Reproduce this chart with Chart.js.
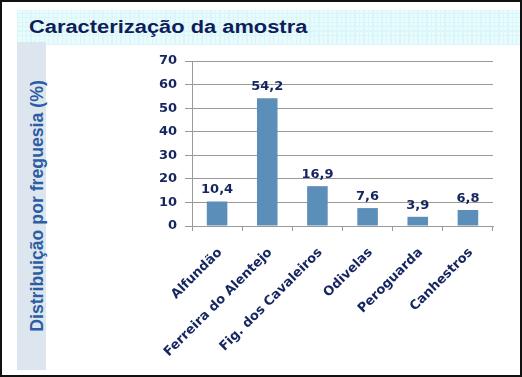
<!DOCTYPE html>
<html>
<head>
<meta charset="utf-8">
<script src="https://cdn.jsdelivr.net/npm/chart.js@4/dist/chart.umd.min.js"></script>
<style>
  html, body { margin:0; padding:0; background:#fff; }
  #frame { position:absolute; left:0; top:0; width:522px; height:377px; box-sizing:border-box; border:2px solid #111; overflow:hidden; background:#fff; }
  #titleband { position:absolute; left:17px; top:10px; width:503px; height:35px;
    background-color:#e9fcfd;
    background-image: repeating-linear-gradient(0deg, #daf6f8 0px, #daf6f8 1px, transparent 1px, transparent 4.5px),
                      repeating-linear-gradient(90deg, #daf6f8 0px, #daf6f8 1px, transparent 1px, transparent 4.5px); }
  #title { position:absolute; left:29px; top:12px; font-family:"Liberation Sans", Arial, sans-serif; font-weight:bold; font-size:18.7px; color:#0f1d5a; white-space:nowrap; transform-origin:0 0; transform:scaleX(1.17); line-height:30px; }
  #leftband { position:absolute; left:17px; top:42px; width:29px; height:328px; background:#dde6ee; }
  #ytitle { position:absolute; left:37px; top:206px; font-family:"Liberation Sans", Arial, sans-serif; font-weight:bold; font-size:17.7px; color:#2a5da3; white-space:nowrap; transform: translate(-50%, -50%) rotate(-90deg); }
  #c { position:absolute; left:0; top:0; }
</style>
</head>
<body>
<div id="frame"></div>
<div id="titleband"></div>
<div id="title">Caracterização da amostra</div>
<div id="leftband"></div>
<div id="ytitle">Distribuição por freguesia (%)</div>
<canvas id="c" width="522" height="377"></canvas>
<script>
const categories = ["Alfundão", "Ferreira do Alentejo", "Fig. dos Cavaleiros", "Odivelas", "Peroguarda", "Canhestros"];
const values = [10.4, 54.2, 16.9, 7.6, 3.9, 6.8];
const yTicks = [0, 10, 20, 30, 40, 50, 60, 70];

const navy = '#15255f';
const gridGray = '#9a9a9a';

const dataLabels = {
  id: 'dataLabels',
  afterDatasetsDraw(chart) {
    const ctx = chart.ctx;
    const meta = chart.getDatasetMeta(0);
    ctx.save();
    ctx.font = 'bold 13px "DejaVu Sans", sans-serif';
    ctx.fillStyle = navy;
    ctx.textAlign = 'center';
    ctx.textBaseline = 'alphabetic';
    meta.data.forEach((bar, i) => {
      const v = chart.data.datasets[0].data[i];
      ctx.fillText(v.toFixed(1).replace('.', ','), bar.x, bar.y - 8);
    });
    ctx.restore();
  }
};

new Chart(document.getElementById('c'), {
  type: 'bar',
  data: {
    labels: categories,
    datasets: [{
      data: values,
      backgroundColor: '#5b8eb9',
      borderWidth: 0,
      barPercentage: 0.41,
      categoryPercentage: 1.0
    }]
  },
  options: {
    responsive: false,
    animation: false,
    layout: { padding: { left: 0, right: 29, top: 61, bottom: 0 } },
    plugins: { legend: { display: false }, tooltip: { enabled: false }, title: { display: false } },
    scales: {
      x: {
        grid: { display: true, drawOnChartArea: false, drawTicks: true, tickLength: 5, color: gridGray, offset: true },
        border: { display: true, color: gridGray, width: 1 },
        ticks: {
          color: navy,
          font: { family: '"DejaVu Sans", sans-serif', weight: 'bold', size: 13 },
          minRotation: 45, maxRotation: 45, padding: 14, labelOffset: 3, autoSkip: false
        },
        afterFit(scale) { scale.height = 151; }
      },
      y: {
        min: 0, max: 70,
        afterBuildTicks(scale) { scale.ticks = yTicks.map(v => ({ value: v })); },
        grid: { color: gridGray, lineWidth: 1, drawTicks: true, tickLength: 7 },
        border: { display: true, color: gridGray, width: 1 },
        ticks: {
          color: navy,
          font: { family: '"DejaVu Sans", sans-serif', weight: 'bold', size: 13 },
          padding: 8
        },
        afterFit(scale) { scale.width = 192; }
      }
    }
  },
  plugins: [dataLabels]
});
</script>
</body>
</html>
